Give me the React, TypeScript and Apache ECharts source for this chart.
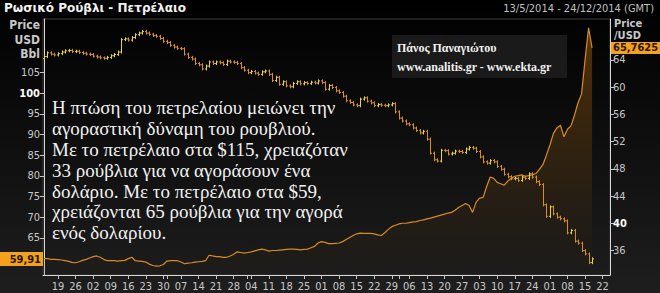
import React, { useEffect, useRef } from 'react';
import * as echarts from 'echarts';

// Trading-day index 0 = 13/5/2014 (weekdays only)
const weekLabels = ['19','26','02','09','16','23','30','07','14','21','28','04','11','18','25','01','08','15','22','29','06','13','20','27','03','10','17','24','01','08','15','22'];
const firstMondayIndex = 4;
const monthStartIndices = [35, 58, 101];

const oilFirstOpen = 108.4;
const oilClose = [
  108.9, 109.8, 109.5, 109.3, 109.6, 110.0, 110.3, 110.4, 110.1, 110.2,
  109.9, 109.7, 109.5, 109.4, 109.0, 108.8, 108.6, 108.5, 108.7, 109.1,
  109.4, 110.0, 113.0, 113.2, 112.9, 113.5, 114.2, 114.6, 115.0, 114.6,
  114.3, 114.0, 113.8, 113.3, 112.6, 112.3, 111.6, 111.2, 110.9, 110.8,
  109.5, 108.7, 108.3, 107.2, 106.9, 105.9, 106.6, 107.6, 107.2, 107.6,
  107.4, 107.0, 107.8, 107.6, 107.5, 107.2, 106.2, 105.6, 105.0, 105.3,
  104.9, 104.6, 105.2, 105.4, 104.6, 103.1, 103.9, 102.2, 102.8, 101.8,
  101.6, 102.4, 102.8, 102.3, 102.6, 102.4, 102.7, 102.5, 103.0, 102.6,
  101.0, 101.9, 101.4, 100.6, 100.2, 99.3, 98.2, 97.8, 97.2, 97.0,
  98.6, 98.9, 98.1, 97.7, 97.0, 97.3, 97.1, 97.0, 97.2, 97.5,
  95.5, 94.0, 93.3, 92.6, 92.4, 91.6, 91.0, 90.4, 90.8, 88.9,
  85.5, 83.9, 83.6, 86.2, 86.1, 85.3, 85.5, 86.0, 85.9, 85.7,
  86.5, 86.9, 86.7, 85.9, 84.6, 83.4, 83.1, 83.7, 83.4, 82.3,
  81.6, 80.4, 79.8, 79.3, 79.4, 78.9, 79.7, 79.4, 80.5, 79.7,
  78.6, 77.9, 73.0, 70.2, 72.5, 70.8, 70.0, 69.6, 69.1, 66.2,
  66.8, 64.2, 63.7, 61.9, 61.1, 59.0, 59.91
];

const rubUsd = [
  34.85, 34.8, 34.7, 34.7, 34.65, 34.6, 34.5, 34.4, 34.25, 34.2,
  34.35, 34.55, 34.7, 34.9, 35.1, 35.2, 35.0, 34.7, 34.5, 34.5,
  34.5, 34.45, 34.5, 34.55, 34.8, 35.0, 34.5, 34.45, 34.4, 34.3,
  34.0, 33.8, 33.7, 33.75, 33.95, 34.45, 34.5, 34.5, 34.5, 34.3,
  34.05, 34.15, 34.2, 34.3, 34.35, 34.4, 34.5, 35.3, 35.2, 35.1,
  35.1, 35.0, 35.0, 35.2, 35.45, 35.8, 35.7, 35.6, 35.7, 35.8,
  35.95, 36.1, 36.2, 36.1, 35.9, 36.0, 36.0, 36.05, 36.1, 36.15,
  36.2, 36.2, 36.15, 36.1, 36.15, 36.2, 36.4, 36.6, 37.1, 37.3,
  37.2, 37.0, 37.0, 37.05, 37.1, 37.3, 37.6, 37.9, 38.2, 38.45,
  38.55, 38.5, 38.5, 38.5, 38.45, 38.3, 38.2, 38.6, 39.1, 39.5,
  39.7, 39.9, 40.0, 40.0, 40.1, 40.2, 40.25, 40.4, 40.5, 40.65,
  40.75, 40.9, 41.05, 41.2, 41.35, 41.5, 41.6, 41.9, 42.3, 42.6,
  42.9, 42.6, 41.6, 43.1, 43.7, 43.8, 45.4, 46.8, 46.6, 46.0,
  45.8, 45.6, 46.2, 46.6, 46.9, 47.0, 47.1, 46.9, 47.0, 47.1,
  47.3, 47.9, 48.6, 50.0, 51.5, 53.2, 54.0, 54.4, 52.7, 53.8,
  54.3, 55.9, 57.7, 59.0, 64.0, 68.7, 65.7625
];

const leftTicks = [65, 70, 75, 80, 85, 90, 95, 100, 105];
const rightTicks = [36, 40, 44, 48, 52, 56, 60, 64];

const titleText = 'Ρωσικό Ρούβλι - Πετρέλαιο';
const dateText = '13/5/2014 - 24/12/2014 (GMT)';
const authorLines = ['Πάνος Παναγιώτου', 'www.analitis.gr - www.ekta.gr'];
const noteLines = [
  'Η πτώση του πετρελαίου μειώνει την',
  'αγοραστική δύναμη του ρουβλιού.',
  'Με το πετρέλαιο στα $115, χρειαζόταν',
  '33 ρούβλια για να αγοράσουν ένα',
  'δολάριο. Με το πετρέλαιο στα $59,',
  'χρειάζονται 65 ρούβλια για την αγορά',
  'ενός δολαρίου.'
];

const AXIS_FONT = '"Liberation Sans Narrow", "DejaVu Sans Condensed", "Liberation Sans", sans-serif';

export default function App() {
  const ref = useRef<HTMLDivElement>(null);
  useEffect(() => {
    document.body.style.margin = '0';
    document.body.style.background = '#111';
    const chart = echarts.init(ref.current!, undefined, { renderer: 'svg' });
    const weekIdx = weekLabels.map((_, k) => firstMondayIndex + 5 * k);
    const oilData = oilClose.map((c, i) => [i, i === 0 ? oilFirstOpen : oilClose[i - 1], c]);
    const rubData = rubUsd.map((v, i) => [i, v]);

    chart.setOption({
      animation: false,
      backgroundColor: new echarts.graphic.LinearGradient(0, 0, 0, 1, [
        { offset: 0, color: '#000000' },
        { offset: 1, color: '#1e1e1e' }
      ]),
      grid: { left: 43, right: 50, top: 19, bottom: 18, show: true, borderColor: '#3a3a3a', borderWidth: 1 },
      xAxis: {
        type: 'value', min: -0.27, max: 161.1,
        axisLine: { show: true, onZero: false, lineStyle: { color: '#d8d8d8', width: 1 } },
        axisTick: { show: true, length: 4, lineStyle: { color: '#c8c8c8' }, customValues: [...weekIdx, ...monthStartIndices] },
        axisLabel: {
          color: '#c8c8c8', fontSize: 11, fontFamily: AXIS_FONT, margin: 6,
          customValues: weekIdx,
          formatter: (v: number) => weekLabels[Math.round((v - firstMondayIndex) / 5)] ?? ''
        },
        splitLine: { show: false }
      },
      yAxis: [
        {
          type: 'value', position: 'left', min: 56, max: 118,
          axisLine: { show: true, lineStyle: { color: '#d8d8d8' } },
          axisTick: { show: true, length: 4, lineStyle: { color: '#c8c8c8' }, customValues: leftTicks },
          axisLabel: {
            color: '#c8c8c8', fontSize: 11, fontFamily: AXIS_FONT, margin: 3,
            customValues: leftTicks,
            formatter: (v: number) => (v === 100 ? '{b|' + v + '}' : String(v)),
            rich: { b: { color: '#ffffff', fontWeight: 'bold', fontSize: 11, fontFamily: AXIS_FONT } }
          },
          splitLine: { show: false }
        },
        {
          type: 'value', position: 'right', min: 32.4, max: 70,
          axisLine: { show: true, lineStyle: { color: '#d8d8d8' } },
          axisTick: { show: true, length: 4, lineStyle: { color: '#c8c8c8' }, customValues: rightTicks },
          axisLabel: {
            color: '#c8c8c8', fontSize: 11, fontFamily: AXIS_FONT, margin: 3, lineHeight: 11,
            customValues: rightTicks,
            formatter: (v: number) => (v === 40 ? '{b|' + v + '}' : String(v)),
            rich: { b: { color: '#ffffff', fontWeight: 'bold', fontSize: 11, fontFamily: AXIS_FONT, lineHeight: 11 } }
          },
          splitLine: { show: false }
        }
      ],
      series: [
        {
          type: 'line', name: 'USD/RUB', yAxisIndex: 1, data: rubData,
          showSymbol: false, symbol: 'none',
          lineStyle: { color: '#d88a24', width: 1.2 },
          areaStyle: {
            origin: 'start',
            color: new echarts.graphic.LinearGradient(0, 0, 0, 1, [
              { offset: 0, color: 'rgba(200,120,20,0.6)' },
              { offset: 0.6, color: 'rgba(120,75,15,0.35)' },
              { offset: 1, color: 'rgba(40,30,15,0.15)' }
            ])
          },
          z: 2
        },
        {
          type: 'custom', name: 'Brent', yAxisIndex: 0, data: oilData,
          encode: { x: 0, y: [1, 2] },
          z: 3,
          renderItem: (params: any, api: any) => {
            const i = api.value(0);
            const o = api.value(1);
            const c = api.value(2);
            const po = api.coord([i, o]);
            const pc = api.coord([i, c]);
            const up = c >= o;
            const color = up ? '#e4d43c' : '#d98e1f';
            const top = Math.min(po[1], pc[1]) - 1.5;
            const bot = Math.max(po[1], pc[1]) + 1.5;
            const x = Math.round(po[0]) + 0.5;
            return {
              type: 'group',
              children: [
                { type: 'line', shape: { x1: x, y1: top, x2: x, y2: bot }, style: { stroke: color, lineWidth: 1 } },
                { type: 'line', shape: { x1: x - 1.5, y1: po[1], x2: x, y2: po[1] }, style: { stroke: color, lineWidth: 1 } },
                { type: 'line', shape: { x1: x, y1: pc[1], x2: x + 1.5, y2: pc[1] }, style: { stroke: color, lineWidth: 1 } }
              ]
            };
          }
        }
      ]
    });

    const lastOil = oilClose[oilClose.length - 1];
    const lastRub = rubUsd[rubUsd.length - 1];
    const yOil = chart.convertToPixel({ yAxisIndex: 0 } as any, lastOil) as number;
    const yRub = chart.convertToPixel({ yAxisIndex: 1 } as any, lastRub) as number;
    const fmt = (v: number) => String(v).replace('.', ',');

    chart.setOption({
      graphic: [
        { type: 'text', left: 4, top: 2, style: { text: titleText, fill: '#f2f2f2', font: 'bold 12px "DejaVu Sans", sans-serif' } },
        { type: 'text', right: 6, top: 3, style: { text: dateText, fill: '#c0c0c0', font: '11px ' + AXIS_FONT } },
        { type: 'text', x: 40, y: 18, style: { text: 'Price\nUSD\nBbl', fill: '#c8c8c8', align: 'right', lineHeight: 14.5, font: 'bold 12px ' + AXIS_FONT } },
        { type: 'text', x: 614, y: 17, style: { text: 'Price\n/USD', fill: '#c8c8c8', align: 'left', lineHeight: 12, font: 'bold 11px ' + AXIS_FONT } },
        { type: 'rect', shape: { x: 0, y: Math.round(yOil) - 7, width: 43, height: 14 }, style: { fill: '#f4a21c' }, z: 100 },
        { type: 'text', x: 41, y: Math.round(yOil), style: { text: fmt(lastOil), fill: '#2a1600', align: 'right', verticalAlign: 'middle', lineHeight: 12, font: 'bold 11px ' + AXIS_FONT }, z: 101 },
        { type: 'rect', shape: { x: 611, y: Math.round(yRub) - 6, width: 49, height: 12 }, style: { fill: '#f4a21c' }, z: 100 },
        { type: 'text', x: 613, y: Math.round(yRub) - 0.5, style: { text: fmt(lastRub), fill: '#2a1600', align: 'left', verticalAlign: 'middle', lineHeight: 11, font: 'bold 11px ' + AXIS_FONT }, z: 101 },
        { type: 'rect', shape: { x: 392, y: 35, width: 175, height: 43 }, style: { fill: '#1a1a1a' }, z: 50 },
        { type: 'text', x: 397, y: 38, style: { text: authorLines.join('\n'), fill: '#f0f0f0', lineHeight: 19, font: 'bold 12px "Liberation Serif", serif' }, z: 51 },
        { type: 'text', x: 52, y: 97, style: { text: noteLines.join('\n'), fill: '#f2f2f2', lineHeight: 20.9, font: '19px "Liberation Serif", serif' }, z: 51 }
      ]
    });

    return () => chart.dispose();
  }, []);
  return <div ref={ref} style={{ position: 'fixed', left: 0, top: 0, width: 660, height: 293 }} />;
}
